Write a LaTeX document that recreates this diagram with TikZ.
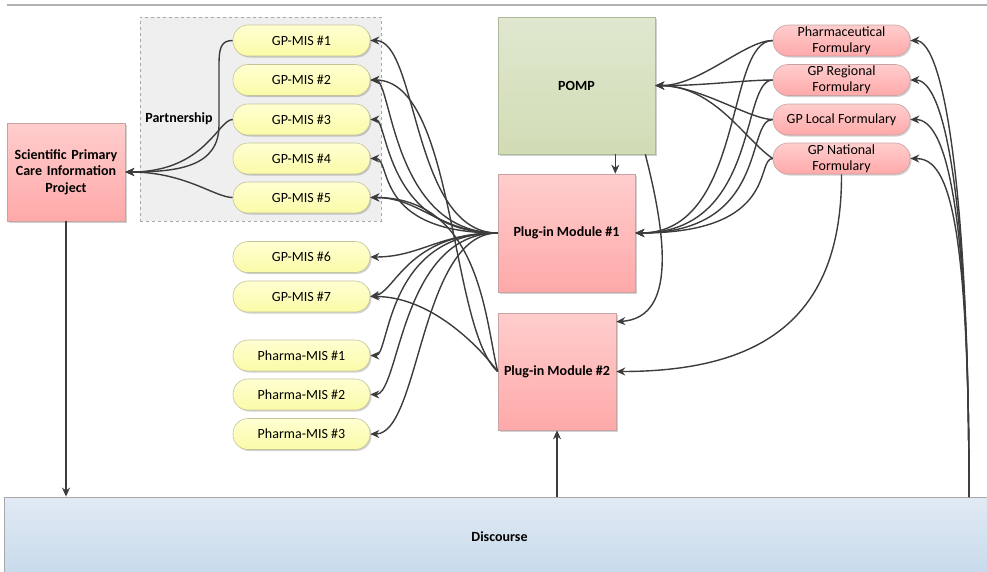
\documentclass[tikz,border=0pt]{standalone}
\usepackage{fontspec}
\setmainfont{Carlito}
\usetikzlibrary{arrows.meta,shadows}

\definecolor{connc}{HTML}{3C3C3C}
\definecolor{ylwtop}{HTML}{FFFFD2}
\definecolor{ylwbot}{HTML}{FBFBA8}
\definecolor{ylwline}{HTML}{C4C49A}
\definecolor{pnktop}{HTML}{FFCDCD}
\definecolor{pnkbot}{HTML}{FFA9A9}
\definecolor{pnkline}{HTML}{C9A3A3}
\definecolor{grntop}{HTML}{DFE8CF}
\definecolor{grnbot}{HTML}{D1DCB5}
\definecolor{grnline}{HTML}{AEB79C}
\definecolor{bluetop}{HTML}{E1EAF4}
\definecolor{bluebot}{HTML}{C7DAEB}
\definecolor{frameline}{HTML}{A8A8A8}
\definecolor{partfill}{HTML}{EFEFEF}

\begin{document}
\begin{tikzpicture}[x=1pt,y=-1pt,
  font=\fontsize{14}{16.5}\selectfont,
  softshadow/.style={drop shadow={shadow xshift=1.5pt,shadow yshift=-1.5pt,fill=black,opacity=0.18}},
  conn/.style={draw=connc,line width=1.4pt,-{Stealth[length=9pt,width=8pt]}},
  mispill/.style={softshadow,draw=ylwline,line width=0.6pt,top color=ylwtop,bottom color=ylwbot,
    rounded corners=15pt,minimum width=137pt,minimum height=31pt,inner sep=0pt},
  formpill/.style={softshadow,draw=pnkline,line width=0.6pt,top color=pnktop,bottom color=pnkbot,
    rounded corners=15pt,minimum width=137pt,minimum height=31pt,inner sep=0pt,align=center,
    font=\fontsize{14}{16}\selectfont},
  pinkbox/.style={softshadow,draw=pnkline,line width=0.6pt,top color=pnktop,bottom color=pnkbot,
    inner sep=0pt,align=center,font=\bfseries\fontsize{14}{16.5}\selectfont},
]
\useasboundingbox (0,0) rectangle (987,571);

% header rule
\draw[line width=2pt,draw=black!30] (7,5) -- (987,5);

% partnership frame
\node[draw=frameline,dashed,fill=partfill,line width=0.6pt,minimum width=241pt,minimum height=204pt,inner sep=0pt]
  (part) at (260.5,119) {};
\node[font=\bfseries\fontsize{14}{16}\selectfont,inner sep=0pt] (partlbl) at (179,119) {Partnership};

% discourse band
\node[draw=frameline,line width=0.8pt,top color=bluetop,bottom color=bluebot,minimum width=991pt,
  minimum height=79pt,inner sep=0pt,font=\bfseries\fontsize{14}{16}\selectfont] (disc) at (499.5,536.5) {Discourse};

% main blocks
\node[pinkbox,minimum width=118pt,minimum height=98pt,text width=114pt] (spcip) at (66,172)
  {Scientific Primary\\Care Information\\Project};
\node[softshadow,draw=grnline,line width=0.6pt,top color=grntop,bottom color=grnbot,minimum width=157pt,
  minimum height=137pt,inner sep=0pt,font=\bfseries\fontsize{14}{16}\selectfont] (pomp) at (576.5,85.5) {POMP};
\node[pinkbox,minimum width=137pt,minimum height=118pt] (pm1) at (566.5,233) {Plug-in Module \#1};
\node[pinkbox,minimum width=118pt,minimum height=117pt] (pm2) at (557,371.5) {Plug-in Module \#2};

% information systems
\node[mispill] (gp1) at (301.5,40.5) {GP-MIS \#1};
\node[mispill] (gp2) at (301.5,80) {GP-MIS \#2};
\node[mispill] (gp3) at (301.5,119.5) {GP-MIS \#3};
\node[mispill] (gp4) at (301.5,158.5) {GP-MIS \#4};
\node[mispill] (gp5) at (301.5,197.5) {GP-MIS \#5};
\node[mispill] (gp6) at (301.5,257) {GP-MIS \#6};
\node[mispill] (gp7) at (301.5,296.5) {GP-MIS \#7};
\node[mispill] (ph1) at (301.5,355.5) {Pharma-MIS \#1};
\node[mispill] (ph2) at (301.5,394.5) {Pharma-MIS \#2};
\node[mispill] (ph3) at (301.5,434) {Pharma-MIS \#3};

% formularies
\node[formpill] (pf)  at (841.5,40.5)  {Pharmaceutical\\Formulary};
\node[formpill] (gpr) at (841.5,80)  {GP Regional\\Formulary};
\node[formpill] (gpl) at (841.5,119.5) {GP Local Formulary};
\node[formpill] (gpn) at (841.5,158.5) {GP National\\Formulary};

\coordinate (dR) at (969,497);

% partnership members to the research project
\draw[conn] (gp1.west) .. controls (221,40.5) and (219,48) .. (219,65) -- (219,125)
  .. controls (219,166) and (180,172) .. (spcip.east);
\draw[conn] (gp3.west) .. controls (218,119.5) and (205,172) .. (spcip.east);
\draw[conn] (gp5.west) .. controls (215,197.5) and (185,172) .. (spcip.east);
\draw[conn] (spcip.south) -- (spcip.south |- disc.north);

% plug-in module 1 to the information systems
\draw[conn] (pm1.west) .. controls (412,233) and (418,40.5) .. (gp1.east);
\draw[conn] (pm1.west) .. controls (392,233) and (392,80) .. (gp2.east);
\draw[conn] (pm1.west) .. controls (385,233) and (388,119.5) .. (gp3.east);
\draw[conn] (pm1.west) .. controls (372,233) and (392,158.5) .. (gp4.east);
\draw[conn] (pm1.west) .. controls (440,233) and (420,197.5) .. (gp5.east);
\draw[conn] (pm1.west) .. controls (440,233) and (420,257) .. (gp6.east);
\draw[conn] (pm1.west) .. controls (408,233) and (395,292) .. (gp7.east);
\draw[conn] (pm1.west) .. controls (385,233) and (390,355.5) .. (ph1.east);
\draw[conn] (pm1.west) .. controls (400,233) and (400,394.5) .. (ph2.east);
\draw[conn] (pm1.west) .. controls (420,233) and (420,434) .. (ph3.east);

% plug-in module 2 to the information systems
\draw[conn] (pm2.west) .. controls (450,330) and (455,80) .. (gp2.east);
\draw[conn] (pm2.west) .. controls (485,320) and (480,197.5) .. (gp5.east);
\draw[conn] (pm2.west) .. controls (478,345) and (430,296.5) .. (gp7.east);

% POMP to the plug-in modules
\draw[conn] ([xshift=-20pt]pm1.north east |- pomp.south) -- ([xshift=-20pt]pm1.north east);
\draw[conn] ([xshift=-10pt]pomp.south east) .. controls (670,250) and (672,318) .. ([yshift=-9pt]pm2.north east);

% formularies to POMP
\draw[conn] (pf.west)  .. controls (745,40.5) and (700,86) .. (pomp.east);
\draw[conn] (gpr.west) .. controls (745,80) and (700,86) .. (pomp.east);
\draw[conn] (gpl.west) .. controls (750,119.5) and (700,86) .. (pomp.east);
\draw[conn] (gpn.west) .. controls (745,140) and (715,86) .. (pomp.east);

% formularies to plug-in module 1
\draw[conn] (pf.west)  .. controls (725,40.5) and (745,233) .. (pm1.east);
\draw[conn] (gpr.west) .. controls (740,80) and (760,233) .. (pm1.east);
\draw[conn] (gpl.west) .. controls (745,119.5) and (770,233) .. (pm1.east);
\draw[conn] (gpn.west) .. controls (755,158.5) and (780,233) .. (pm1.east);

% national formulary to plug-in module 2
\draw[conn] (gpn.south) .. controls (842,320) and (760,371.5) .. (pm2.east);

% discourse feeds
\draw[conn] (pm2.south |- disc.north) -- (pm2.south);
\draw[conn] (dR) .. controls (969,200) and (945,40.5) .. (pf.east);
\draw[conn] (dR) .. controls (969,200) and (945,80) .. (gpr.east);
\draw[conn] (dR) .. controls (969,200) and (945,119.5) .. (gpl.east);
\draw[conn] (dR) .. controls (969,200) and (945,158.5) .. (gpn.east);
\end{tikzpicture}
\end{document}
